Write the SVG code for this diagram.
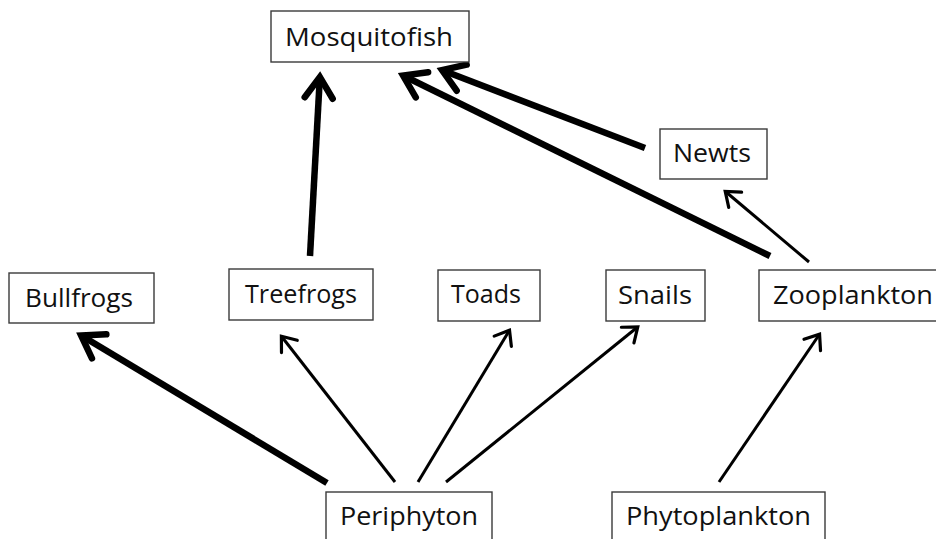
<svg xmlns="http://www.w3.org/2000/svg" width="936" height="539" viewBox="0 0 936 539">
<style>
.box{fill:#fff;stroke:#3a3a3a;stroke-width:1.4}
.lbl{font-family:"Open Sans","Noto Sans",sans-serif;font-size:25px;fill:#111}
.thin{stroke:#000;stroke-width:3;fill:none;marker-end:url(#hThin)}
.thick{stroke:#000;stroke-width:6.5;fill:none;marker-end:url(#hThick)}
</style>
<defs>
<marker id="hThin" markerUnits="userSpaceOnUse" orient="auto" overflow="visible" refX="-1" refY="0" markerWidth="1" markerHeight="1">
<path d="M-13,-10 L0,0 L-13,10" fill="none" stroke="#000" stroke-width="3.2" stroke-linejoin="miter" stroke-linecap="round"/>
</marker>
<marker id="hThick" markerUnits="userSpaceOnUse" orient="auto" overflow="visible" refX="-1" refY="0" markerWidth="1" markerHeight="1">
<path d="M-21,-14 L0,0 L-21,14" fill="none" stroke="#000" stroke-width="6.5" stroke-linejoin="miter" stroke-linecap="round"/>
</marker>
</defs>
<rect width="936" height="539" fill="#fff"/>
<g id="connectors">
<line class="thick" x1="327" y1="483" x2="82" y2="336"/>
<line class="thick" x1="310" y1="256" x2="319.8" y2="78"/>
<line class="thick" x1="770" y1="256" x2="404" y2="76"/>
<line class="thick" x1="645" y1="148" x2="443" y2="70.5"/>
<line class="thin" x1="395" y1="482" x2="282" y2="337"/>
<line class="thin" x1="418" y1="482" x2="509" y2="331"/>
<line class="thin" x1="446" y1="482" x2="637" y2="327.5"/>
<line class="thin" x1="719" y1="482" x2="819" y2="335"/>
<line class="thin" x1="809" y1="262" x2="726" y2="192"/>
</g>
<g id="mosquitofish"><rect class="box" x="271" y="11" width="198" height="51"/><text class="lbl" x="285" y="46" textLength="168" lengthAdjust="spacingAndGlyphs">Mosquitofish</text></g>
<g id="newts"><rect class="box" x="660" y="129" width="107" height="50"/><text class="lbl" x="673" y="162" textLength="78" lengthAdjust="spacingAndGlyphs">Newts</text></g>
<g id="bullfrogs"><rect class="box" x="9" y="273" width="145" height="50"/><text class="lbl" x="25" y="307" textLength="108" lengthAdjust="spacingAndGlyphs">Bullfrogs</text></g>
<g id="treefrogs"><rect class="box" x="229" y="269" width="144" height="51"/><text class="lbl" x="245" y="303" textLength="112" lengthAdjust="spacingAndGlyphs">Treefrogs</text></g>
<g id="toads"><rect class="box" x="438" y="270" width="102" height="51"/><text class="lbl" x="451" y="303" textLength="70" lengthAdjust="spacingAndGlyphs">Toads</text></g>
<g id="snails"><rect class="box" x="606" y="270" width="99" height="51"/><text class="lbl" x="618" y="304" textLength="74" lengthAdjust="spacingAndGlyphs">Snails</text></g>
<g id="zooplankton"><rect class="box" x="759" y="270" width="180" height="51"/><text class="lbl" x="773" y="304" textLength="160" lengthAdjust="spacingAndGlyphs">Zooplankton</text></g>
<g id="periphyton"><rect class="box" x="326" y="492" width="166" height="60"/><text class="lbl" x="340" y="525" textLength="138" lengthAdjust="spacingAndGlyphs">Periphyton</text></g>
<g id="phytoplankton"><rect class="box" x="612" y="492" width="213" height="60"/><text class="lbl" x="626" y="525" textLength="185" lengthAdjust="spacingAndGlyphs">Phytoplankton</text></g>
</svg>
